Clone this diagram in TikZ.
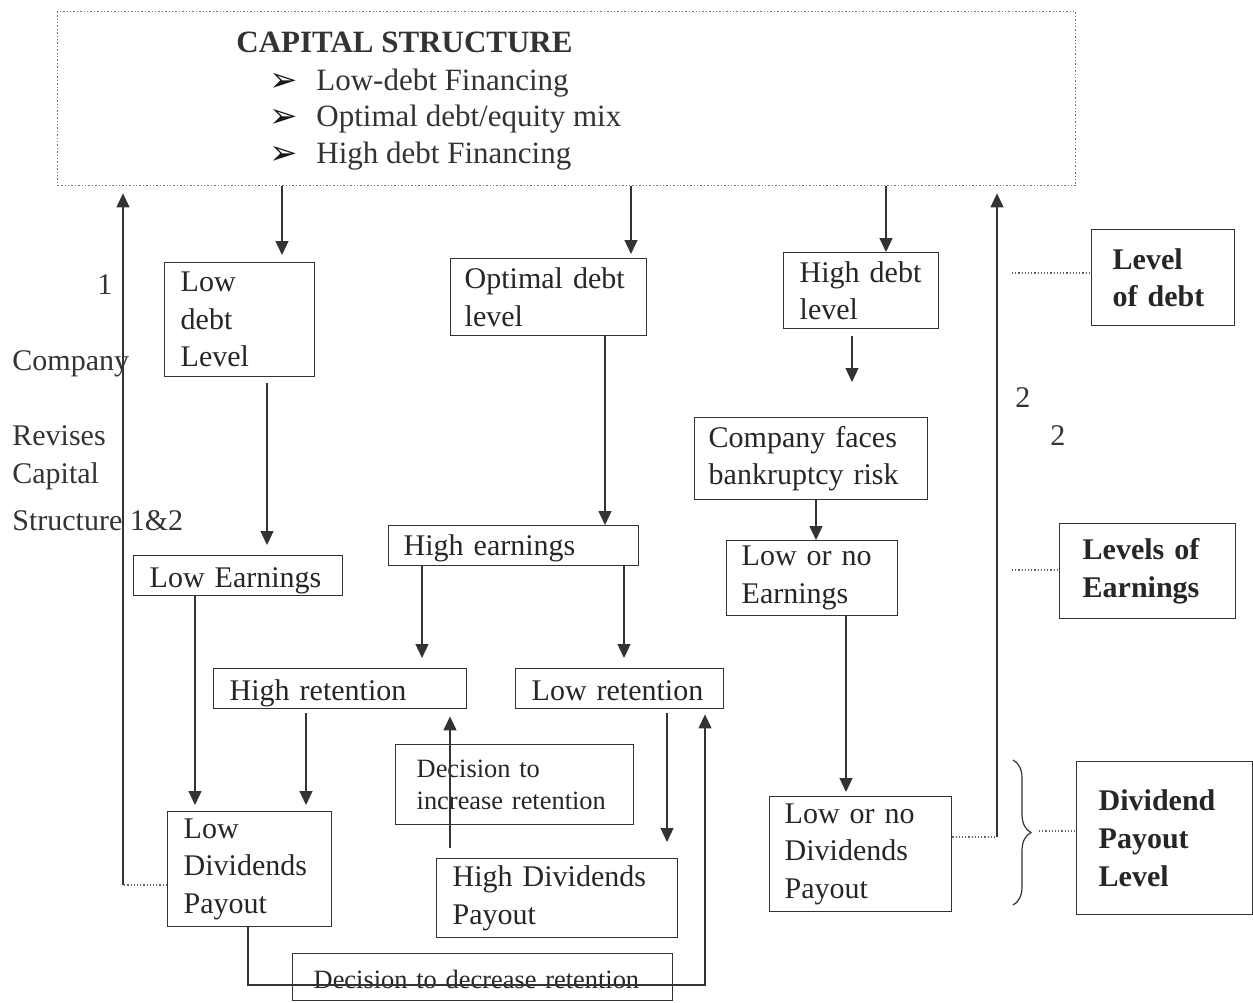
\documentclass[tikz,border=0pt]{standalone}
\usepackage{fontspec}
\setmainfont{Liberation Serif}
\newfontfamily\dejavu{DejaVu Sans}
\usetikzlibrary{arrows.meta,decorations.pathreplacing}
\newcommand\fbody{\fontsize{15pt}{18.8pt}\selectfont}
\newcommand\fsmall{\fontsize{13.2pt}{16pt}\selectfont}
\newcommand\ftop{\fontsize{15.5pt}{18.5pt}\selectfont}
\newcommand\fbul{\dejavu\fontsize{17pt}{19pt}\selectfont}
\tikzset{
 bx/.style={draw=black!80, line width=0.7pt, anchor=north west, align=left, font=\fbody, text=black!85, inner ysep=0pt},
 bbx/.style={bx, font=\fbody\bfseries},
 oneline/.style={text height=16pt, text depth=4pt},
 arr/.style={draw=black!80, line width=0.6pt, -{Triangle[width=6.5pt,length=7pt]}},
 dotlink/.style={draw=black!60, line width=0.6pt, densely dotted},
 lbl/.style={anchor=base west, inner sep=0pt, font=\fbody, text=black!80},
}
\begin{document}
\begin{tikzpicture}[x=0.5pt,y=-0.5pt]
\useasboundingbox (0,0) rectangle (1253,1002);
\fill[white] (0,0) rectangle (1253,1002);

% top box
\node[draw=black!55, densely dotted, line width=0.7pt, anchor=north west, minimum width=509pt, minimum height=87pt, inner sep=0pt] (cs) at (57,11) {};
\node[lbl, font=\ftop\bfseries] (title) at (236,52) {CAPITAL STRUCTURE};
\node[lbl, font=\fbul, text=black!90] (b1) at (269,91) {➢};
\node[lbl, font=\fbul, text=black!90] (b2) at (269,127) {➢};
\node[lbl, font=\fbul, text=black!90] (b3) at (269,164) {➢};
\node[lbl, font=\ftop] (i1) at (316,90) {Low-debt Financing};
\node[lbl, font=\ftop] (i2) at (316,126) {Optimal debt/equity mix};
\node[lbl, font=\ftop] (i3) at (316,163) {High debt Financing};

% boxes
\node[bx, minimum width=75pt, minimum height=57pt, text width=59pt, inner xsep=8pt] (lowd) at (164,262) {Low\\debt\\Level};
\node[bx, minimum width=98pt, minimum height=38.5pt, text width=84pt, inner xsep=7pt] (optd) at (450,258) {Optimal debt\\level};
\node[bx, minimum width=77.5pt, minimum height=38pt, text width=61.5pt, inner xsep=8pt] (hd) at (783,252) {High debt\\level};
\node[bx, minimum width=116.5pt, minimum height=41pt, text width=102.5pt, inner xsep=7pt] (cf) at (694,417) {Company faces\\bankruptcy risk};
\node[bx, minimum width=85.5pt, minimum height=37.5pt, text width=70.5pt, inner xsep=7.5pt] (lne) at (726,540) {Low or no\\Earnings};
\node[bbx, minimum width=71.5pt, minimum height=48pt, text width=50.5pt, inner xsep=10.5pt] (lod) at (1091,229) {Level\\of debt};
\node[bbx, minimum width=88pt, minimum height=47.5pt, text width=65pt, inner xsep=11.5pt] (loe) at (1059,523) {Levels of\\Earnings};
\node[bx, oneline, minimum width=104.5pt, minimum height=20pt, text width=88.5pt, inner xsep=8pt] (le) at (133,555) {Low Earnings};
\node[bx, oneline, text height=15pt, text depth=5pt, minimum width=125pt, minimum height=20pt, text width=110pt, inner xsep=7.5pt] (he) at (388,525) {High earnings};
\node[bx, oneline, minimum width=126.5pt, minimum height=20pt, text width=110.5pt, inner xsep=8pt] (hr) at (213,668) {High retention};
\node[bx, oneline, minimum width=104pt, minimum height=20pt, text width=88pt, inner xsep=8pt] (lr) at (515,668) {Low retention};
\node[bx, minimum width=82pt, minimum height=57.5pt, text width=66pt, inner xsep=8pt] (ldp) at (167,811) {Low\\Dividends\\Payout};
\node[bx, font=\fsmall, minimum width=119pt, minimum height=40pt, text width=98pt, inner xsep=10.5pt] (inc) at (395,744) {Decision to\\increase retention};
\node[bx, minimum width=120.5pt, minimum height=39.5pt, text width=104.5pt, inner xsep=8pt] (hdp) at (436,858) {High Dividends\\Payout};
\node[bx, font=\fsmall, text height=17.5pt, text depth=6pt, minimum width=190pt, minimum height=23.5pt, text width=169pt, inner xsep=10.5pt] (dec) at (292,953) {Decision to decrease retention};
\node[bx, minimum width=91pt, minimum height=57.5pt, text width=76pt, inner xsep=7.5pt] (lnd) at (769,796) {Low or no\\Dividends\\Payout};
\node[bbx, minimum width=88pt, minimum height=76.5pt, text width=66pt, inner xsep=11pt] (dpl) at (1076,761) {Dividend\\Payout\\Level};

% side labels
\node[lbl] (n1) at (97,294) {1};
\node[lbl] (comp) at (12,370) {Company};
\node[lbl] (rev) at (12,445) {Revises};
\node[lbl] (capl) at (12,483) {Capital};
\node[lbl] (strc) at (12,530) {Structure 1\&2};
\node[lbl] (n2a) at (1015,407) {2};
\node[lbl] (n2b) at (1050,445) {2};

% x positions of connectors
\coordinate (c1) at (282,0);
\coordinate (c2) at (631,0);
\coordinate (c3) at (886,0);
\coordinate (c4) at (267,0);
\coordinate (c5) at (605,0);
\coordinate (c6) at (852,0);
\coordinate (c7) at (816,0);
\coordinate (c8) at (846,0);
\coordinate (c9) at (422,0);
\coordinate (c10) at (624,0);
\coordinate (c11) at (195,0);
\coordinate (c12) at (306,0);
\coordinate (c13) at (450,0);
\coordinate (c14) at (667,0);

\draw[arr, shorten >=3.5pt] (cs.south -| c1) -- (lowd.north -| c1);
\draw[arr, shorten >=2pt] (cs.south -| c2) -- (optd.north -| c2);
\draw[arr] (cs.south -| c3) -- (hd.north -| c3);
\draw[arr, shorten <=3pt, shorten >=5pt] (lowd.south -| c4) -- (le.north -| c4);
\draw[arr] (optd.south -| c5) -- (he.north -| c5);
\draw[arr, shorten <=3.5pt, shorten >=17.5pt] (hd.south -| c6) -- (cf.north -| c6);
\draw[arr] (cf.south -| c7) -- (lne.north -| c7);
\draw[arr, shorten >=2pt] (lne.south -| c8) -- (lnd.north -| c8);
\draw[arr, shorten >=5pt] (he.south -| c9) -- (hr.north -| c9);
\draw[arr, shorten >=5pt] (he.south -| c10) -- (lr.north -| c10);
\draw[arr, shorten >=3pt] (le.south -| c11) -- (ldp.north -| c11);
\draw[arr, shorten <=2pt, shorten >=3pt] (hr.south -| c12) -- (ldp.north -| c12);
\draw[arr, shorten <=5pt, shorten >=3.5pt] (hdp.north -| c13) -- (hr.south -| c13);
\draw[arr, shorten <=2pt, shorten >=8pt] (lr.south -| c14) -- (hdp.north -| c14);

% bottom loop
\coordinate (lp1) at (248,985);
\coordinate (lp2) at (705,985);
\draw[arr, shorten >=2.5pt] (ldp.south -| lp1) -- (lp1) -- (lp2) -- (lr.south -| lp2);

% left feedback
\coordinate (ll) at (123,885);
\draw[dotlink] (ldp.west |- ll) -- (ll);
\draw[arr, shorten >=3.5pt] (ll) -- (cs.south -| ll);

% right feedback
\coordinate (rl) at (997,837);
\draw[dotlink] (lnd.east |- rl) -- (rl);
\draw[arr, shorten >=3.5pt] (rl) -- (cs.south -| rl);

% dotted links to level labels
\coordinate (d1) at (1012,273);
\draw[dotlink] (d1) -- (lod.west |- d1);
\coordinate (d2) at (1012,570);
\draw[dotlink] (d2) -- (loe.west |- d2);
\coordinate (brt) at (1013,760);
\coordinate (brb) at (1013,905);
\draw[black!80, line width=0.6pt, decorate, decoration={brace, amplitude=9pt}] (brt) -- (brb);
\coordinate (d3) at (1039,831);
\draw[dotlink] (d3) -- (dpl.west |- d3);
\end{tikzpicture}
\end{document}
